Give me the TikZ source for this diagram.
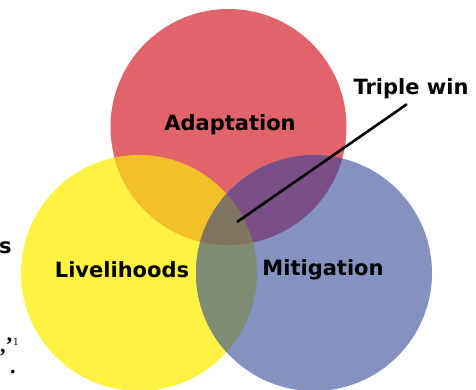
\documentclass[tikz,border=0pt]{standalone}
\usepackage{fontspec}
\usepackage{tikz}
\usetikzlibrary{positioning}
\newfontfamily\vennfont{DejaVu Sans}
\newfontfamily\notefont{Liberation Serif}
\definecolor{cred}{RGB}{224,100,106}
\definecolor{cyel}{RGB}{255,242,66}
\definecolor{cblu}{RGB}{131,146,192}
\definecolor{credyel}{RGB}{244,192,42}
\definecolor{credblu}{RGB}{122,78,134}
\definecolor{cyelblu}{RGB}{127,140,116}
\definecolor{call}{RGB}{128,118,96}
\newcommand{\vennrad}{118pt}

\begin{document}
\begin{tikzpicture}[x=1pt, y=-1pt,
      lbl/.style={font=\vennfont\bfseries\fontsize{21}{25}\selectfont, inner sep=2pt},
      note/.style={font=\notefont\bfseries\fontsize{22}{21}\selectfont, inner sep=0pt, align=left},
      pointer/.style={line width=2.6pt, black, shorten <=5pt}
    ]
    \useasboundingbox (0,0) rectangle (476,390);
    \coordinate (ca) at (228.5,127);
    \coordinate (cl) at (139,273);
    \coordinate (cm) at (314,273);
    % the three sets
    \fill[cyel] (cl) circle (\vennrad);
    \fill[cred] (ca) circle (\vennrad);
    \fill[cblu] (cm) circle (\vennrad);
    % overlaps
    \begin{scope}
      \clip (cl) circle (\vennrad);
      \fill[cyelblu] (cm) circle (\vennrad);
    \end{scope}
    \begin{scope}
      \clip (ca) circle (\vennrad);
      \fill[credyel] (cl) circle (\vennrad);
      \fill[credblu] (cm) circle (\vennrad);
      \clip (cl) circle (\vennrad);
      \fill[call] (cm) circle (\vennrad);
    \end{scope}
    \node[lbl] (adapt) at (230,125) {Adaptation};
    \node[lbl] (liveli) at (122,270) {Livelihoods};
    \node[lbl] (mitig) at (323,270) {Mitigation};
    \node[lbl] (triple) at (411,89) {Triple win};
    \coordinate (hub) at (237,222);
    \draw[pointer] (triple.south) -- (hub);
    % text left over at the left edge
    \node[lbl, anchor=west, inner sep=0pt] (cuts) at (-1,248) {s};
    \node[note, anchor=north west] (cutq) at (0,338)
      {,’\textsuperscript{\mdseries\fontsize{11}{11}\selectfont 1}\\\hspace*{10pt}.};
  \end{tikzpicture}
\end{document}
